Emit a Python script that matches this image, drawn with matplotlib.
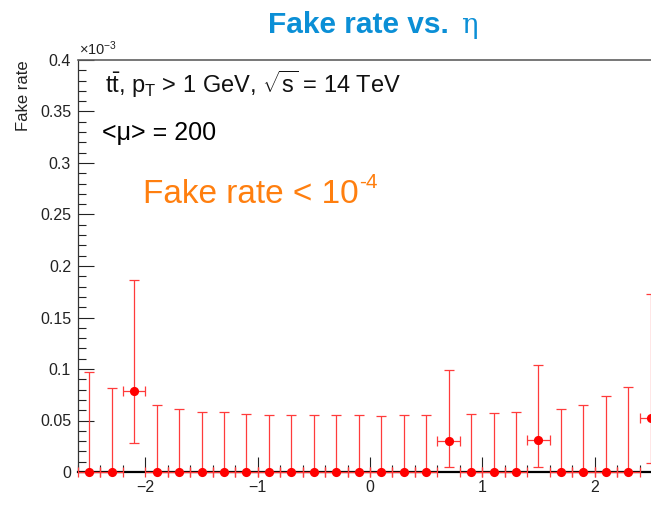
import matplotlib
matplotlib.use("Agg")
import matplotlib.pyplot as plt
from matplotlib.ticker import MultipleLocator, FuncFormatter

plt.rcParams['font.family'] = ['Liberation Sans', 'DejaVu Sans']
plt.rcParams['mathtext.fontset'] = 'custom'
plt.rcParams['mathtext.rm'] = 'Liberation Sans'
plt.rcParams['mathtext.it'] = 'Liberation Sans:italic'
plt.rcParams['mathtext.bf'] = 'Liberation Sans:bold'

# Fake rate per eta bin (units of 1e-3), bin width 0.2
eta_centers = [-2.5, -2.3, -2.1, -1.9, -1.7, -1.5, -1.3, -1.1, -0.9, -0.7, -0.5, -0.3, -0.1,
               0.1, 0.3, 0.5, 0.7, 0.9, 1.1, 1.3, 1.5, 1.7, 1.9, 2.1, 2.3, 2.5]
fake_rate = [0, 0, 0.079, 0, 0, 0, 0, 0, 0, 0, 0, 0, 0,
             0, 0, 0, 0.030, 0, 0, 0, 0.031, 0, 0, 0, 0, 0.052]
err_up = [0.097, 0.082, 0.107, 0.065, 0.061, 0.058, 0.058, 0.056, 0.055, 0.055, 0.055, 0.055, 0.055,
          0.054, 0.055, 0.055, 0.069, 0.056, 0.057, 0.058, 0.073, 0.061, 0.065, 0.074, 0.083, 0.121]
err_down = [0, 0, 0.051, 0, 0, 0, 0, 0, 0, 0, 0, 0, 0,
            0, 0, 0, 0.025, 0, 0, 0, 0.026, 0, 0, 0, 0, 0.043]
eta_half_width = [0.1] * len(eta_centers)

W, H = 651, 509
fig = plt.figure(figsize=(W / 100, H / 100), dpi=100)
ax = fig.add_axes([78 / W, 37 / H, 584 / W, 412 / H])

ax.errorbar(eta_centers, fake_rate, yerr=[err_down, err_up], xerr=eta_half_width,
            fmt='none', ecolor='#ff3b3b', elinewidth=0.9, capsize=3.4, capthick=0.9,
            zorder=4, clip_on=False)
ax.plot(eta_centers, fake_rate, 'o', color='#ff0000', markersize=6.6, markeredgewidth=0,
        zorder=5, clip_on=False)

ax.set_xlim(-2.6, 2.6)
ax.set_ylim(0, 0.4)
ax.xaxis.set_major_locator(MultipleLocator(1))
ax.xaxis.set_minor_locator(MultipleLocator(0.2))
ax.yaxis.set_major_locator(MultipleLocator(0.05))
ax.yaxis.set_minor_locator(MultipleLocator(0.01))
ax.yaxis.set_major_formatter(FuncFormatter(lambda v, p: ('%g' % round(v, 3))))
ax.xaxis.set_major_formatter(FuncFormatter(lambda v, p: ('%g' % v).replace('-', '\u2212')))

ax.tick_params(axis='both', which='both', direction='in', top=False, right=False,
               labelsize=11.5, colors='#222222', width=0.8)
ax.tick_params(axis='y', which='major', length=11.5, pad=5)
ax.tick_params(axis='y', which='minor', length=5.8)
ax.tick_params(axis='x', which='major', length=10.5, pad=6)
ax.tick_params(axis='x', which='minor', length=5.2)

ax.spines['right'].set_visible(False)
ax.spines['left'].set_color('#333333')
ax.spines['left'].set_linewidth(0.9)
ax.spines['bottom'].set_color('#000000')
ax.spines['bottom'].set_linewidth(1.6)
ax.spines['top'].set_color('#606060')
ax.spines['top'].set_linewidth(1.2)

# Exponent marker for the y axis
fig.text(79 / W, 1 - 55 / H, '\u00d710$^{-3}$', fontsize=10.5, color='#222222',
         ha='left', va='baseline')

# Y axis title, aligned to the top of the axis
fig.text(23 / W, 1 - 60 / H, 'Fake rate', rotation=90, fontsize=12, color='#222222',
         ha='center', va='top')

# Title
fig.text(268 / W, 1 - 33 / H, 'Fake rate vs.', fontsize=21.5, fontweight='bold',
         color='#0b8fd6', ha='left', va='baseline')
fig.text(461 / W, 1 - 33 / H, '\u03b7', fontsize=20, family='DejaVu Serif',
         color='#0b8fd6', ha='left', va='baseline')

# Annotations
fig.text(105 / W, 1 - 93 / H, r'$\mathrm{t\bar{t}}$, p$_\mathrm{T}$ > 1 GeV, $\sqrt{\mathrm{s}}$ = 14 TeV',
         fontsize=17, color='#111111', ha='left', va='baseline')
fig.text(102 / W, 1 - 140 / H, '<\u03bc> = 200', fontsize=18, color='#000000',
         ha='left', va='baseline')

orange = '#ff7f0f'
main = fig.text(143 / W, 1 - 203 / H, 'Fake rate < 10', fontsize=24, color=orange,
                ha='left', va='baseline')
fig.canvas.draw()
bb = main.get_window_extent()
fig.text((bb.x1 + 1) / W, 1 - 188 / H, '-4', fontsize=15, color=orange,
         ha='left', va='baseline')

fig.savefig('out.png', dpi=100)
